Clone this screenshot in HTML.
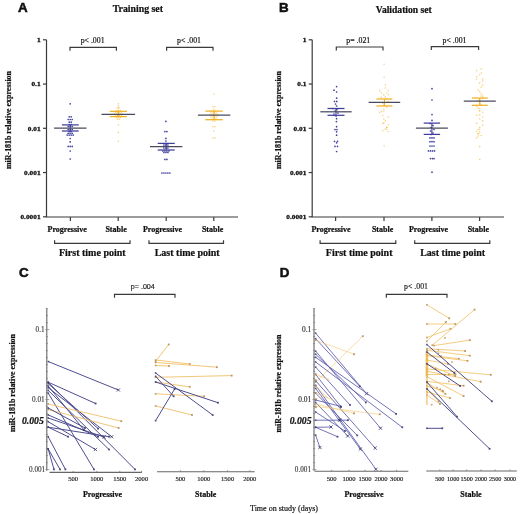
<!DOCTYPE html>
<html><head><meta charset="utf-8"><style>
html,body{margin:0;padding:0;background:#fff;width:520px;height:514px;overflow:hidden;}
svg{display:block;filter:blur(0.3px);}

</style></head><body>
<svg width="520" height="514" viewBox="0 0 520 514"><text x="18" y="12.2" font-family="'Liberation Sans', sans-serif" font-size="13.4" font-weight="bold" font-style="normal" text-anchor="start" fill="#111" stroke="#111" stroke-width="0.55">A</text>
<text x="137.9" y="12.2" font-family="'Liberation Serif', serif" font-size="9.8" font-weight="bold" font-style="normal" text-anchor="middle" fill="#111" stroke="#111" stroke-width="0.22">Training set</text>
<text x="10.5" y="120" font-family="'Liberation Serif', serif" font-size="7.9" font-weight="bold" font-style="normal" text-anchor="middle" fill="#111" transform="rotate(-90 10.5 120)" stroke="#111" stroke-width="0.22">miR-181b relative expression</text>
<line x1="46.5" y1="39.8" x2="46.5" y2="217" stroke="#3a3a3a" stroke-width="1.2"/>
<line x1="45.9" y1="217" x2="238" y2="217" stroke="#3a3a3a" stroke-width="1.2"/>
<line x1="43.0" y1="39.8" x2="46.5" y2="39.8" stroke="#3a3a3a" stroke-width="1.2"/>
<text transform="translate(40.6 42.199999999999996) scale(1.08 1)" x="0" y="0" font-family="'Liberation Serif', serif" font-size="6.8" font-weight="bold" font-style="normal" text-anchor="end" fill="#111" stroke="#111" stroke-width="0.3">1</text>
<line x1="43.0" y1="84.05" x2="46.5" y2="84.05" stroke="#3a3a3a" stroke-width="1.2"/>
<text transform="translate(40.6 86.45) scale(1.08 1)" x="0" y="0" font-family="'Liberation Serif', serif" font-size="6.8" font-weight="bold" font-style="normal" text-anchor="end" fill="#111" stroke="#111" stroke-width="0.3">0.1</text>
<line x1="43.0" y1="128.3" x2="46.5" y2="128.3" stroke="#3a3a3a" stroke-width="1.2"/>
<text transform="translate(40.6 130.70000000000002) scale(1.08 1)" x="0" y="0" font-family="'Liberation Serif', serif" font-size="6.8" font-weight="bold" font-style="normal" text-anchor="end" fill="#111" stroke="#111" stroke-width="0.3">0.01</text>
<line x1="43.0" y1="172.55" x2="46.5" y2="172.55" stroke="#3a3a3a" stroke-width="1.2"/>
<text transform="translate(40.6 174.95000000000002) scale(1.08 1)" x="0" y="0" font-family="'Liberation Serif', serif" font-size="6.8" font-weight="bold" font-style="normal" text-anchor="end" fill="#111" stroke="#111" stroke-width="0.3">0.001</text>
<line x1="43.0" y1="216.8" x2="46.5" y2="216.8" stroke="#3a3a3a" stroke-width="1.2"/>
<text transform="translate(40.6 219.20000000000002) scale(1.08 1)" x="0" y="0" font-family="'Liberation Serif', serif" font-size="6.8" font-weight="bold" font-style="normal" text-anchor="end" fill="#111" stroke="#111" stroke-width="0.3">0.0001</text>
<line x1="70.4" y1="217" x2="70.4" y2="221" stroke="#3a3a3a" stroke-width="1.2"/>
<line x1="118.2" y1="217" x2="118.2" y2="221" stroke="#3a3a3a" stroke-width="1.2"/>
<line x1="166.2" y1="217" x2="166.2" y2="221" stroke="#3a3a3a" stroke-width="1.2"/>
<line x1="213.8" y1="217" x2="213.8" y2="221" stroke="#3a3a3a" stroke-width="1.2"/>
<text x="92.6" y="42.8" font-family="'Liberation Serif', serif" font-size="7.8" font-weight="normal" font-style="normal" text-anchor="middle" fill="#111" stroke="#111" stroke-width="0.18">p&lt; .001</text>
<polyline points="70,50.8 70,47.3 116.4,47.3 116.4,50.8" fill="none" stroke="#3a3a3a" stroke-width="1.2"/>
<text x="189" y="42.8" font-family="'Liberation Serif', serif" font-size="7.8" font-weight="normal" font-style="normal" text-anchor="middle" fill="#111" stroke="#111" stroke-width="0.18">p&lt; .001</text>
<polyline points="166.6,50.8 166.6,47.3 213,47.3 213,50.8" fill="none" stroke="#3a3a3a" stroke-width="1.2"/>
<text x="67.2" y="232.0" font-family="'Liberation Serif', serif" font-size="8.0" font-weight="bold" font-style="normal" text-anchor="middle" fill="#111" stroke="#111" stroke-width="0.22">Progressive</text>
<text x="116.1" y="232.0" font-family="'Liberation Serif', serif" font-size="8.0" font-weight="bold" font-style="normal" text-anchor="middle" fill="#111" stroke="#111" stroke-width="0.22">Stable</text>
<text x="162.5" y="232.0" font-family="'Liberation Serif', serif" font-size="8.0" font-weight="bold" font-style="normal" text-anchor="middle" fill="#111" stroke="#111" stroke-width="0.22">Progressive</text>
<text x="212.6" y="232.0" font-family="'Liberation Serif', serif" font-size="8.0" font-weight="bold" font-style="normal" text-anchor="middle" fill="#111" stroke="#111" stroke-width="0.22">Stable</text>
<polyline points="54.6,240.3 54.6,243.3 130,243.3 130,240.3" fill="none" stroke="#3a3a3a" stroke-width="1.2"/>
<polyline points="149,240.3 149,243.3 223.5,243.3 223.5,240.3" fill="none" stroke="#3a3a3a" stroke-width="1.2"/>
<text x="92.3" y="255.9" font-family="'Liberation Serif', serif" font-size="10" font-weight="bold" font-style="normal" text-anchor="middle" fill="#111" stroke="#111" stroke-width="0.22">First time point</text>
<text x="187.2" y="255.9" font-family="'Liberation Serif', serif" font-size="10" font-weight="bold" font-style="normal" text-anchor="middle" fill="#111" stroke="#111" stroke-width="0.22">Last time point</text>
<circle cx="70.2" cy="103.8" r="0.85" fill="#4040a0" fill-opacity="1.0"/>
<circle cx="69.2" cy="116.8" r="0.85" fill="#4040a0" fill-opacity="1.0"/>
<circle cx="71.2" cy="116.8" r="0.85" fill="#4040a0" fill-opacity="1.0"/>
<circle cx="68.2" cy="119.5" r="0.85" fill="#4040a0" fill-opacity="1.0"/>
<circle cx="70.2" cy="119.5" r="0.85" fill="#4040a0" fill-opacity="1.0"/>
<circle cx="72.2" cy="119.5" r="0.85" fill="#4040a0" fill-opacity="1.0"/>
<circle cx="69.2" cy="122.2" r="0.85" fill="#4040a0" fill-opacity="1.0"/>
<circle cx="71.2" cy="122.2" r="0.85" fill="#4040a0" fill-opacity="1.0"/>
<circle cx="69.2" cy="124.5" r="0.85" fill="#4040a0" fill-opacity="1.0"/>
<circle cx="71.2" cy="124.5" r="0.85" fill="#4040a0" fill-opacity="1.0"/>
<circle cx="68.2" cy="126.5" r="0.85" fill="#4040a0" fill-opacity="1.0"/>
<circle cx="70.2" cy="126.5" r="0.85" fill="#4040a0" fill-opacity="1.0"/>
<circle cx="72.2" cy="126.5" r="0.85" fill="#4040a0" fill-opacity="1.0"/>
<circle cx="68.2" cy="129.5" r="0.85" fill="#4040a0" fill-opacity="1.0"/>
<circle cx="70.2" cy="129.5" r="0.85" fill="#4040a0" fill-opacity="1.0"/>
<circle cx="72.2" cy="129.5" r="0.85" fill="#4040a0" fill-opacity="1.0"/>
<circle cx="69.2" cy="131.6" r="0.85" fill="#4040a0" fill-opacity="1.0"/>
<circle cx="71.2" cy="131.6" r="0.85" fill="#4040a0" fill-opacity="1.0"/>
<circle cx="68.2" cy="133.3" r="0.85" fill="#4040a0" fill-opacity="1.0"/>
<circle cx="70.2" cy="133.3" r="0.85" fill="#4040a0" fill-opacity="1.0"/>
<circle cx="72.2" cy="133.3" r="0.85" fill="#4040a0" fill-opacity="1.0"/>
<circle cx="67.2" cy="135.1" r="0.85" fill="#4040a0" fill-opacity="1.0"/>
<circle cx="69.2" cy="135.1" r="0.85" fill="#4040a0" fill-opacity="1.0"/>
<circle cx="71.2" cy="135.1" r="0.85" fill="#4040a0" fill-opacity="1.0"/>
<circle cx="73.2" cy="135.1" r="0.85" fill="#4040a0" fill-opacity="1.0"/>
<circle cx="70.2" cy="138.5" r="0.85" fill="#4040a0" fill-opacity="1.0"/>
<circle cx="70.2" cy="141.9" r="0.85" fill="#4040a0" fill-opacity="1.0"/>
<circle cx="68.2" cy="146.4" r="0.85" fill="#4040a0" fill-opacity="1.0"/>
<circle cx="70.2" cy="146.4" r="0.85" fill="#4040a0" fill-opacity="1.0"/>
<circle cx="72.2" cy="146.4" r="0.85" fill="#4040a0" fill-opacity="1.0"/>
<circle cx="70.2" cy="151.0" r="0.85" fill="#4040a0" fill-opacity="1.0"/>
<circle cx="70.2" cy="159.0" r="0.85" fill="#4040a0" fill-opacity="1.0"/>
<line x1="61.9" y1="124.9" x2="78.7" y2="124.9" stroke="#3e3e9c" stroke-width="1.25"/>
<line x1="61.9" y1="131.0" x2="78.7" y2="131.0" stroke="#3e3e9c" stroke-width="1.25"/>
<line x1="70.3" y1="124.9" x2="70.3" y2="131.0" stroke="#3e3e9c" stroke-width="1.1"/>
<line x1="54.099999999999994" y1="128.0" x2="86.5" y2="128.0" stroke="#4a4a5e" stroke-width="1.25"/>
<circle cx="118.4" cy="103.8" r="0.75" fill="#f2b630" fill-opacity="0.65"/>
<circle cx="118.4" cy="105.7" r="0.75" fill="#f2b630" fill-opacity="0.65"/>
<circle cx="117.4" cy="107.5" r="0.75" fill="#f2b630" fill-opacity="0.65"/>
<circle cx="119.4" cy="107.5" r="0.75" fill="#f2b630" fill-opacity="0.65"/>
<circle cx="118.4" cy="108.7" r="0.75" fill="#f2b630" fill-opacity="0.65"/>
<circle cx="116.4" cy="110.5" r="0.75" fill="#f2b630" fill-opacity="0.65"/>
<circle cx="118.4" cy="110.5" r="0.75" fill="#f2b630" fill-opacity="0.65"/>
<circle cx="120.4" cy="110.5" r="0.75" fill="#f2b630" fill-opacity="0.65"/>
<circle cx="115.4" cy="112.3" r="0.75" fill="#f2b630" fill-opacity="0.65"/>
<circle cx="117.4" cy="112.3" r="0.75" fill="#f2b630" fill-opacity="0.65"/>
<circle cx="119.4" cy="112.3" r="0.75" fill="#f2b630" fill-opacity="0.65"/>
<circle cx="121.4" cy="112.3" r="0.75" fill="#f2b630" fill-opacity="0.65"/>
<circle cx="114.4" cy="114.0" r="0.75" fill="#f2b630" fill-opacity="0.65"/>
<circle cx="116.4" cy="114.0" r="0.75" fill="#f2b630" fill-opacity="0.65"/>
<circle cx="118.4" cy="114.0" r="0.75" fill="#f2b630" fill-opacity="0.65"/>
<circle cx="120.4" cy="114.0" r="0.75" fill="#f2b630" fill-opacity="0.65"/>
<circle cx="122.4" cy="114.0" r="0.75" fill="#f2b630" fill-opacity="0.65"/>
<circle cx="115.4" cy="115.8" r="0.75" fill="#f2b630" fill-opacity="0.65"/>
<circle cx="117.4" cy="115.8" r="0.75" fill="#f2b630" fill-opacity="0.65"/>
<circle cx="119.4" cy="115.8" r="0.75" fill="#f2b630" fill-opacity="0.65"/>
<circle cx="121.4" cy="115.8" r="0.75" fill="#f2b630" fill-opacity="0.65"/>
<circle cx="116.4" cy="117.4" r="0.75" fill="#f2b630" fill-opacity="0.65"/>
<circle cx="118.4" cy="117.4" r="0.75" fill="#f2b630" fill-opacity="0.65"/>
<circle cx="120.4" cy="117.4" r="0.75" fill="#f2b630" fill-opacity="0.65"/>
<circle cx="117.4" cy="119.2" r="0.75" fill="#f2b630" fill-opacity="0.65"/>
<circle cx="119.4" cy="119.2" r="0.75" fill="#f2b630" fill-opacity="0.65"/>
<circle cx="118.4" cy="125.0" r="0.75" fill="#f2b630" fill-opacity="0.65"/>
<circle cx="118.4" cy="132.6" r="0.75" fill="#f2b630" fill-opacity="0.65"/>
<circle cx="118.4" cy="141.3" r="0.75" fill="#f2b630" fill-opacity="0.65"/>
<line x1="109.7" y1="111.3" x2="126.89999999999999" y2="111.3" stroke="#f0b020" stroke-width="1.25"/>
<line x1="109.7" y1="116.6" x2="126.89999999999999" y2="116.6" stroke="#f0b020" stroke-width="1.25"/>
<line x1="118.3" y1="111.3" x2="118.3" y2="116.6" stroke="#f0b020" stroke-width="1.1"/>
<line x1="101.5" y1="114.3" x2="135.1" y2="114.3" stroke="#4a4a5e" stroke-width="1.25"/>
<circle cx="165.9" cy="121.4" r="0.85" fill="#4040a0" fill-opacity="1.0"/>
<circle cx="164.9" cy="131.6" r="0.85" fill="#4040a0" fill-opacity="1.0"/>
<circle cx="166.9" cy="131.6" r="0.85" fill="#4040a0" fill-opacity="1.0"/>
<circle cx="165.9" cy="138.4" r="0.85" fill="#4040a0" fill-opacity="1.0"/>
<circle cx="165.9" cy="141.0" r="0.85" fill="#4040a0" fill-opacity="1.0"/>
<circle cx="164.9" cy="143.5" r="0.85" fill="#4040a0" fill-opacity="1.0"/>
<circle cx="166.9" cy="143.5" r="0.85" fill="#4040a0" fill-opacity="1.0"/>
<circle cx="163.9" cy="145.0" r="0.85" fill="#4040a0" fill-opacity="1.0"/>
<circle cx="165.9" cy="145.0" r="0.85" fill="#4040a0" fill-opacity="1.0"/>
<circle cx="167.9" cy="145.0" r="0.85" fill="#4040a0" fill-opacity="1.0"/>
<circle cx="163.9" cy="148.0" r="0.85" fill="#4040a0" fill-opacity="1.0"/>
<circle cx="165.9" cy="148.0" r="0.85" fill="#4040a0" fill-opacity="1.0"/>
<circle cx="167.9" cy="148.0" r="0.85" fill="#4040a0" fill-opacity="1.0"/>
<circle cx="162.9" cy="151.0" r="0.85" fill="#4040a0" fill-opacity="1.0"/>
<circle cx="164.9" cy="151.0" r="0.85" fill="#4040a0" fill-opacity="1.0"/>
<circle cx="166.9" cy="151.0" r="0.85" fill="#4040a0" fill-opacity="1.0"/>
<circle cx="168.9" cy="151.0" r="0.85" fill="#4040a0" fill-opacity="1.0"/>
<circle cx="163.9" cy="152.5" r="0.85" fill="#4040a0" fill-opacity="1.0"/>
<circle cx="165.9" cy="152.5" r="0.85" fill="#4040a0" fill-opacity="1.0"/>
<circle cx="167.9" cy="152.5" r="0.85" fill="#4040a0" fill-opacity="1.0"/>
<circle cx="164.9" cy="159.4" r="0.85" fill="#4040a0" fill-opacity="1.0"/>
<circle cx="166.9" cy="159.4" r="0.85" fill="#4040a0" fill-opacity="1.0"/>
<circle cx="161.9" cy="173.0" r="0.85" fill="#4040a0" fill-opacity="1.0"/>
<circle cx="163.9" cy="173.0" r="0.85" fill="#4040a0" fill-opacity="1.0"/>
<circle cx="165.9" cy="173.0" r="0.85" fill="#4040a0" fill-opacity="1.0"/>
<circle cx="167.9" cy="173.0" r="0.85" fill="#4040a0" fill-opacity="1.0"/>
<circle cx="169.9" cy="173.0" r="0.85" fill="#4040a0" fill-opacity="1.0"/>
<line x1="157.7" y1="143.4" x2="174.7" y2="143.4" stroke="#3e3e9c" stroke-width="1.25"/>
<line x1="157.7" y1="150.0" x2="174.7" y2="150.0" stroke="#3e3e9c" stroke-width="1.25"/>
<line x1="166.2" y1="143.4" x2="166.2" y2="150.0" stroke="#3e3e9c" stroke-width="1.1"/>
<line x1="150.0" y1="146.7" x2="182.39999999999998" y2="146.7" stroke="#4a4a5e" stroke-width="1.25"/>
<circle cx="213.9" cy="94.0" r="0.75" fill="#f2b630" fill-opacity="0.65"/>
<circle cx="212.9" cy="106.8" r="0.75" fill="#f2b630" fill-opacity="0.65"/>
<circle cx="214.9" cy="106.8" r="0.75" fill="#f2b630" fill-opacity="0.65"/>
<circle cx="213.9" cy="109.0" r="0.75" fill="#f2b630" fill-opacity="0.65"/>
<circle cx="211.9" cy="111.0" r="0.75" fill="#f2b630" fill-opacity="0.65"/>
<circle cx="213.9" cy="111.0" r="0.75" fill="#f2b630" fill-opacity="0.65"/>
<circle cx="215.9" cy="111.0" r="0.75" fill="#f2b630" fill-opacity="0.65"/>
<circle cx="210.9" cy="113.0" r="0.75" fill="#f2b630" fill-opacity="0.65"/>
<circle cx="212.9" cy="113.0" r="0.75" fill="#f2b630" fill-opacity="0.65"/>
<circle cx="214.9" cy="113.0" r="0.75" fill="#f2b630" fill-opacity="0.65"/>
<circle cx="216.9" cy="113.0" r="0.75" fill="#f2b630" fill-opacity="0.65"/>
<circle cx="209.9" cy="115.0" r="0.75" fill="#f2b630" fill-opacity="0.65"/>
<circle cx="211.9" cy="115.0" r="0.75" fill="#f2b630" fill-opacity="0.65"/>
<circle cx="213.9" cy="115.0" r="0.75" fill="#f2b630" fill-opacity="0.65"/>
<circle cx="215.9" cy="115.0" r="0.75" fill="#f2b630" fill-opacity="0.65"/>
<circle cx="217.9" cy="115.0" r="0.75" fill="#f2b630" fill-opacity="0.65"/>
<circle cx="210.9" cy="117.0" r="0.75" fill="#f2b630" fill-opacity="0.65"/>
<circle cx="212.9" cy="117.0" r="0.75" fill="#f2b630" fill-opacity="0.65"/>
<circle cx="214.9" cy="117.0" r="0.75" fill="#f2b630" fill-opacity="0.65"/>
<circle cx="216.9" cy="117.0" r="0.75" fill="#f2b630" fill-opacity="0.65"/>
<circle cx="211.9" cy="119.0" r="0.75" fill="#f2b630" fill-opacity="0.65"/>
<circle cx="213.9" cy="119.0" r="0.75" fill="#f2b630" fill-opacity="0.65"/>
<circle cx="215.9" cy="119.0" r="0.75" fill="#f2b630" fill-opacity="0.65"/>
<circle cx="212.9" cy="121.0" r="0.75" fill="#f2b630" fill-opacity="0.65"/>
<circle cx="214.9" cy="121.0" r="0.75" fill="#f2b630" fill-opacity="0.65"/>
<circle cx="212.9" cy="126.7" r="0.75" fill="#f2b630" fill-opacity="0.65"/>
<circle cx="214.9" cy="126.7" r="0.75" fill="#f2b630" fill-opacity="0.65"/>
<circle cx="213.9" cy="131.0" r="0.75" fill="#f2b630" fill-opacity="0.65"/>
<circle cx="212.9" cy="138.0" r="0.75" fill="#f2b630" fill-opacity="0.65"/>
<circle cx="214.9" cy="138.0" r="0.75" fill="#f2b630" fill-opacity="0.65"/>
<line x1="205.4" y1="111.1" x2="222.79999999999998" y2="111.1" stroke="#f0b020" stroke-width="1.25"/>
<line x1="205.4" y1="119.7" x2="222.79999999999998" y2="119.7" stroke="#f0b020" stroke-width="1.25"/>
<line x1="214.1" y1="111.1" x2="214.1" y2="119.7" stroke="#f0b020" stroke-width="1.1"/>
<line x1="197.9" y1="115.2" x2="230.29999999999998" y2="115.2" stroke="#4a4a5e" stroke-width="1.25"/>
<text x="279" y="12.2" font-family="'Liberation Sans', sans-serif" font-size="13.4" font-weight="bold" font-style="normal" text-anchor="start" fill="#111" stroke="#111" stroke-width="0.55">B</text>
<text x="403.8" y="12.8" font-family="'Liberation Serif', serif" font-size="9.6" font-weight="bold" font-style="normal" text-anchor="middle" fill="#111" stroke="#111" stroke-width="0.22">Validation set</text>
<text x="281" y="120" font-family="'Liberation Serif', serif" font-size="7.9" font-weight="bold" font-style="normal" text-anchor="middle" fill="#111" transform="rotate(-90 281 120)" stroke="#111" stroke-width="0.22">miR-181b relative expression</text>
<line x1="312.2" y1="39.8" x2="312.2" y2="217" stroke="#3a3a3a" stroke-width="1.2"/>
<line x1="311.59999999999997" y1="217" x2="504" y2="217" stroke="#3a3a3a" stroke-width="1.2"/>
<line x1="308.7" y1="39.8" x2="312.2" y2="39.8" stroke="#3a3a3a" stroke-width="1.2"/>
<text transform="translate(306.4 42.199999999999996) scale(1.08 1)" x="0" y="0" font-family="'Liberation Serif', serif" font-size="6.8" font-weight="bold" font-style="normal" text-anchor="end" fill="#111" stroke="#111" stroke-width="0.3">1</text>
<line x1="308.7" y1="84.05" x2="312.2" y2="84.05" stroke="#3a3a3a" stroke-width="1.2"/>
<text transform="translate(306.4 86.45) scale(1.08 1)" x="0" y="0" font-family="'Liberation Serif', serif" font-size="6.8" font-weight="bold" font-style="normal" text-anchor="end" fill="#111" stroke="#111" stroke-width="0.3">0.1</text>
<line x1="308.7" y1="128.3" x2="312.2" y2="128.3" stroke="#3a3a3a" stroke-width="1.2"/>
<text transform="translate(306.4 130.70000000000002) scale(1.08 1)" x="0" y="0" font-family="'Liberation Serif', serif" font-size="6.8" font-weight="bold" font-style="normal" text-anchor="end" fill="#111" stroke="#111" stroke-width="0.3">0.01</text>
<line x1="308.7" y1="172.55" x2="312.2" y2="172.55" stroke="#3a3a3a" stroke-width="1.2"/>
<text transform="translate(306.4 174.95000000000002) scale(1.08 1)" x="0" y="0" font-family="'Liberation Serif', serif" font-size="6.8" font-weight="bold" font-style="normal" text-anchor="end" fill="#111" stroke="#111" stroke-width="0.3">0.001</text>
<line x1="308.7" y1="216.8" x2="312.2" y2="216.8" stroke="#3a3a3a" stroke-width="1.2"/>
<text transform="translate(306.4 219.20000000000002) scale(1.08 1)" x="0" y="0" font-family="'Liberation Serif', serif" font-size="6.8" font-weight="bold" font-style="normal" text-anchor="end" fill="#111" stroke="#111" stroke-width="0.3">0.0001</text>
<line x1="335.6" y1="217" x2="335.6" y2="221" stroke="#3a3a3a" stroke-width="1.2"/>
<line x1="384.0" y1="217" x2="384.0" y2="221" stroke="#3a3a3a" stroke-width="1.2"/>
<line x1="431.9" y1="217" x2="431.9" y2="221" stroke="#3a3a3a" stroke-width="1.2"/>
<line x1="479.6" y1="217" x2="479.6" y2="221" stroke="#3a3a3a" stroke-width="1.2"/>
<text x="358.3" y="42.8" font-family="'Liberation Serif', serif" font-size="7.8" font-weight="normal" font-style="normal" text-anchor="middle" fill="#111" stroke="#111" stroke-width="0.18">p= .021</text>
<polyline points="336.3,50.5 336.3,47 383,47 383,50.5" fill="none" stroke="#3a3a3a" stroke-width="1.2"/>
<text x="454.5" y="42.8" font-family="'Liberation Serif', serif" font-size="7.8" font-weight="normal" font-style="normal" text-anchor="middle" fill="#111" stroke="#111" stroke-width="0.18">p&lt; .001</text>
<polyline points="431.3,50.1 431.3,46.6 478.6,46.6 478.6,50.1" fill="none" stroke="#3a3a3a" stroke-width="1.2"/>
<text x="331" y="232.0" font-family="'Liberation Serif', serif" font-size="8.0" font-weight="bold" font-style="normal" text-anchor="middle" fill="#111" stroke="#111" stroke-width="0.22">Progressive</text>
<text x="382.6" y="232.0" font-family="'Liberation Serif', serif" font-size="8.0" font-weight="bold" font-style="normal" text-anchor="middle" fill="#111" stroke="#111" stroke-width="0.22">Stable</text>
<text x="428.5" y="232.0" font-family="'Liberation Serif', serif" font-size="8.0" font-weight="bold" font-style="normal" text-anchor="middle" fill="#111" stroke="#111" stroke-width="0.22">Progressive</text>
<text x="478.3" y="232.0" font-family="'Liberation Serif', serif" font-size="8.0" font-weight="bold" font-style="normal" text-anchor="middle" fill="#111" stroke="#111" stroke-width="0.22">Stable</text>
<polyline points="320.1,240.3 320.1,243.3 395.8,243.3 395.8,240.3" fill="none" stroke="#3a3a3a" stroke-width="1.2"/>
<polyline points="414.7,240.3 414.7,243.3 489.8,243.3 489.8,240.3" fill="none" stroke="#3a3a3a" stroke-width="1.2"/>
<text x="359.2" y="255.9" font-family="'Liberation Serif', serif" font-size="10" font-weight="bold" font-style="normal" text-anchor="middle" fill="#111" stroke="#111" stroke-width="0.22">First time point</text>
<text x="452.7" y="255.9" font-family="'Liberation Serif', serif" font-size="10" font-weight="bold" font-style="normal" text-anchor="middle" fill="#111" stroke="#111" stroke-width="0.22">Last time point</text>
<circle cx="336.6" cy="86.6" r="0.85" fill="#4040a0" fill-opacity="1.0"/>
<circle cx="334.0" cy="90.2" r="0.85" fill="#4040a0" fill-opacity="1.0"/>
<circle cx="336.6" cy="92.0" r="0.85" fill="#4040a0" fill-opacity="1.0"/>
<circle cx="336.6" cy="98.2" r="0.85" fill="#4040a0" fill-opacity="1.0"/>
<circle cx="334.5" cy="101.4" r="0.85" fill="#4040a0" fill-opacity="1.0"/>
<circle cx="336.8" cy="101.4" r="0.85" fill="#4040a0" fill-opacity="1.0"/>
<circle cx="335.5" cy="104.0" r="0.85" fill="#4040a0" fill-opacity="1.0"/>
<circle cx="336.6" cy="106.0" r="0.85" fill="#4040a0" fill-opacity="1.0"/>
<circle cx="333.0" cy="108.5" r="0.85" fill="#4040a0" fill-opacity="1.0"/>
<circle cx="337.0" cy="109.5" r="0.85" fill="#4040a0" fill-opacity="1.0"/>
<circle cx="335.0" cy="111.0" r="0.85" fill="#4040a0" fill-opacity="1.0"/>
<circle cx="338.0" cy="113.0" r="0.85" fill="#4040a0" fill-opacity="1.0"/>
<circle cx="334.0" cy="114.0" r="0.85" fill="#4040a0" fill-opacity="1.0"/>
<circle cx="336.0" cy="116.0" r="0.85" fill="#4040a0" fill-opacity="1.0"/>
<circle cx="336.6" cy="118.7" r="0.85" fill="#4040a0" fill-opacity="1.0"/>
<circle cx="336.4" cy="121.6" r="0.85" fill="#4040a0" fill-opacity="1.0"/>
<circle cx="336.6" cy="126.7" r="0.85" fill="#4040a0" fill-opacity="1.0"/>
<circle cx="335.0" cy="129.6" r="0.85" fill="#4040a0" fill-opacity="1.0"/>
<circle cx="337.0" cy="129.6" r="0.85" fill="#4040a0" fill-opacity="1.0"/>
<circle cx="336.6" cy="131.8" r="0.85" fill="#4040a0" fill-opacity="1.0"/>
<circle cx="336.6" cy="135.2" r="0.85" fill="#4040a0" fill-opacity="1.0"/>
<circle cx="334.5" cy="141.3" r="0.85" fill="#4040a0" fill-opacity="1.0"/>
<circle cx="337.5" cy="141.3" r="0.85" fill="#4040a0" fill-opacity="1.0"/>
<circle cx="336.6" cy="142.8" r="0.85" fill="#4040a0" fill-opacity="1.0"/>
<circle cx="335.0" cy="146.4" r="0.85" fill="#4040a0" fill-opacity="1.0"/>
<circle cx="337.5" cy="146.4" r="0.85" fill="#4040a0" fill-opacity="1.0"/>
<circle cx="336.6" cy="151.5" r="0.85" fill="#4040a0" fill-opacity="1.0"/>
<line x1="327.5" y1="108.5" x2="344.5" y2="108.5" stroke="#3e3e9c" stroke-width="1.25"/>
<line x1="327.5" y1="115.3" x2="344.5" y2="115.3" stroke="#3e3e9c" stroke-width="1.25"/>
<line x1="336.0" y1="108.5" x2="336.0" y2="115.3" stroke="#3e3e9c" stroke-width="1.1"/>
<line x1="320.3" y1="111.8" x2="351.7" y2="111.8" stroke="#4a4a5e" stroke-width="1.25"/>
<circle cx="385.3" cy="85.0" r="0.8" fill="#f2b630" fill-opacity="0.6"/>
<circle cx="385.3" cy="88.0" r="0.8" fill="#f2b630" fill-opacity="0.6"/>
<circle cx="379.8" cy="90.6" r="0.8" fill="#f2b630" fill-opacity="0.6"/>
<circle cx="388.3" cy="90.5" r="0.8" fill="#f2b630" fill-opacity="0.6"/>
<circle cx="381.3" cy="92.7" r="0.8" fill="#f2b630" fill-opacity="0.6"/>
<circle cx="386.8" cy="93.0" r="0.8" fill="#f2b630" fill-opacity="0.6"/>
<circle cx="383.8" cy="94.9" r="0.8" fill="#f2b630" fill-opacity="0.6"/>
<circle cx="388.3" cy="94.7" r="0.8" fill="#f2b630" fill-opacity="0.6"/>
<circle cx="381.3" cy="97.4" r="0.8" fill="#f2b630" fill-opacity="0.6"/>
<circle cx="385.3" cy="96.9" r="0.8" fill="#f2b630" fill-opacity="0.6"/>
<circle cx="386.8" cy="99.3" r="0.8" fill="#f2b630" fill-opacity="0.6"/>
<circle cx="388.3" cy="101.5" r="0.8" fill="#f2b630" fill-opacity="0.6"/>
<circle cx="382.8" cy="103.3" r="0.8" fill="#f2b630" fill-opacity="0.6"/>
<circle cx="383.8" cy="105.1" r="0.8" fill="#f2b630" fill-opacity="0.6"/>
<circle cx="386.8" cy="107.3" r="0.8" fill="#f2b630" fill-opacity="0.6"/>
<circle cx="383.8" cy="109.2" r="0.8" fill="#f2b630" fill-opacity="0.6"/>
<circle cx="383.8" cy="111.5" r="0.8" fill="#f2b630" fill-opacity="0.6"/>
<circle cx="381.3" cy="111.4" r="0.8" fill="#f2b630" fill-opacity="0.6"/>
<circle cx="379.8" cy="112.6" r="0.8" fill="#f2b630" fill-opacity="0.6"/>
<circle cx="382.8" cy="115.5" r="0.8" fill="#f2b630" fill-opacity="0.6"/>
<circle cx="388.3" cy="117.1" r="0.8" fill="#f2b630" fill-opacity="0.6"/>
<circle cx="383.8" cy="119.0" r="0.8" fill="#f2b630" fill-opacity="0.6"/>
<circle cx="385.3" cy="120.9" r="0.8" fill="#f2b630" fill-opacity="0.6"/>
<circle cx="383.8" cy="123.1" r="0.8" fill="#f2b630" fill-opacity="0.6"/>
<circle cx="382.8" cy="123.2" r="0.8" fill="#f2b630" fill-opacity="0.6"/>
<circle cx="388.3" cy="124.8" r="0.8" fill="#f2b630" fill-opacity="0.6"/>
<circle cx="386.8" cy="127.2" r="0.8" fill="#f2b630" fill-opacity="0.6"/>
<circle cx="386.8" cy="127.4" r="0.8" fill="#f2b630" fill-opacity="0.6"/>
<circle cx="385.3" cy="129.1" r="0.8" fill="#f2b630" fill-opacity="0.6"/>
<circle cx="386.8" cy="129.2" r="0.8" fill="#f2b630" fill-opacity="0.6"/>
<circle cx="388.3" cy="131.5" r="0.8" fill="#f2b630" fill-opacity="0.6"/>
<circle cx="382.8" cy="130.8" r="0.8" fill="#f2b630" fill-opacity="0.6"/>
<circle cx="384.1" cy="64.3" r="0.8" fill="#f2b630" fill-opacity="0.6"/>
<circle cx="384.1" cy="77.3" r="0.8" fill="#f2b630" fill-opacity="0.6"/>
<circle cx="384.1" cy="145.7" r="0.8" fill="#f2b630" fill-opacity="0.6"/>
<line x1="376.4" y1="99.0" x2="392.4" y2="99.0" stroke="#f0b020" stroke-width="1.25"/>
<line x1="376.4" y1="106.0" x2="392.4" y2="106.0" stroke="#f0b020" stroke-width="1.25"/>
<line x1="384.4" y1="99.0" x2="384.4" y2="106.0" stroke="#f0b020" stroke-width="1.1"/>
<line x1="368.59999999999997" y1="102.3" x2="400.2" y2="102.3" stroke="#4a4a5e" stroke-width="1.25"/>
<circle cx="432.0" cy="88.7" r="0.85" fill="#4040a0" fill-opacity="1.0"/>
<circle cx="432.0" cy="100.0" r="0.85" fill="#4040a0" fill-opacity="1.0"/>
<circle cx="432.0" cy="114.6" r="0.85" fill="#4040a0" fill-opacity="1.0"/>
<circle cx="432.0" cy="120.4" r="0.85" fill="#4040a0" fill-opacity="1.0"/>
<circle cx="430.0" cy="123.5" r="0.85" fill="#4040a0" fill-opacity="1.0"/>
<circle cx="433.0" cy="125.5" r="0.85" fill="#4040a0" fill-opacity="1.0"/>
<circle cx="431.0" cy="127.5" r="0.85" fill="#4040a0" fill-opacity="1.0"/>
<circle cx="434.0" cy="129.5" r="0.85" fill="#4040a0" fill-opacity="1.0"/>
<circle cx="430.5" cy="131.0" r="0.85" fill="#4040a0" fill-opacity="1.0"/>
<circle cx="433.0" cy="133.0" r="0.85" fill="#4040a0" fill-opacity="1.0"/>
<circle cx="431.0" cy="134.5" r="0.85" fill="#4040a0" fill-opacity="1.0"/>
<circle cx="430.0" cy="137.9" r="0.85" fill="#4040a0" fill-opacity="1.0"/>
<circle cx="432.0" cy="137.9" r="0.85" fill="#4040a0" fill-opacity="1.0"/>
<circle cx="434.0" cy="137.9" r="0.85" fill="#4040a0" fill-opacity="1.0"/>
<circle cx="430.0" cy="141.7" r="0.85" fill="#4040a0" fill-opacity="1.0"/>
<circle cx="432.0" cy="141.7" r="0.85" fill="#4040a0" fill-opacity="1.0"/>
<circle cx="434.0" cy="141.7" r="0.85" fill="#4040a0" fill-opacity="1.0"/>
<circle cx="430.0" cy="146.0" r="0.85" fill="#4040a0" fill-opacity="1.0"/>
<circle cx="432.0" cy="146.0" r="0.85" fill="#4040a0" fill-opacity="1.0"/>
<circle cx="434.0" cy="146.0" r="0.85" fill="#4040a0" fill-opacity="1.0"/>
<circle cx="428.5" cy="150.9" r="0.85" fill="#4040a0" fill-opacity="1.0"/>
<circle cx="430.5" cy="150.9" r="0.85" fill="#4040a0" fill-opacity="1.0"/>
<circle cx="432.5" cy="150.9" r="0.85" fill="#4040a0" fill-opacity="1.0"/>
<circle cx="434.5" cy="150.9" r="0.85" fill="#4040a0" fill-opacity="1.0"/>
<circle cx="430.5" cy="158.6" r="0.85" fill="#4040a0" fill-opacity="1.0"/>
<circle cx="432.5" cy="158.6" r="0.85" fill="#4040a0" fill-opacity="1.0"/>
<circle cx="434.0" cy="158.6" r="0.85" fill="#4040a0" fill-opacity="1.0"/>
<circle cx="432.0" cy="172.2" r="0.85" fill="#4040a0" fill-opacity="1.0"/>
<line x1="423.7" y1="123.1" x2="440.09999999999997" y2="123.1" stroke="#3e3e9c" stroke-width="1.25"/>
<line x1="423.7" y1="134.4" x2="440.09999999999997" y2="134.4" stroke="#3e3e9c" stroke-width="1.25"/>
<line x1="431.9" y1="123.1" x2="431.9" y2="134.4" stroke="#3e3e9c" stroke-width="1.1"/>
<line x1="415.9" y1="128.2" x2="447.9" y2="128.2" stroke="#4a4a5e" stroke-width="1.25"/>
<circle cx="481.2" cy="68.9" r="0.8" fill="#f2b630" fill-opacity="0.6"/>
<circle cx="476.7" cy="70.6" r="0.8" fill="#f2b630" fill-opacity="0.6"/>
<circle cx="481.2" cy="73.1" r="0.8" fill="#f2b630" fill-opacity="0.6"/>
<circle cx="479.7" cy="74.8" r="0.8" fill="#f2b630" fill-opacity="0.6"/>
<circle cx="476.7" cy="76.6" r="0.8" fill="#f2b630" fill-opacity="0.6"/>
<circle cx="476.7" cy="79.0" r="0.8" fill="#f2b630" fill-opacity="0.6"/>
<circle cx="482.7" cy="79.0" r="0.8" fill="#f2b630" fill-opacity="0.6"/>
<circle cx="482.7" cy="81.0" r="0.8" fill="#f2b630" fill-opacity="0.6"/>
<circle cx="479.7" cy="82.9" r="0.8" fill="#f2b630" fill-opacity="0.6"/>
<circle cx="482.7" cy="85.4" r="0.8" fill="#f2b630" fill-opacity="0.6"/>
<circle cx="481.2" cy="87.3" r="0.8" fill="#f2b630" fill-opacity="0.6"/>
<circle cx="478.2" cy="89.8" r="0.8" fill="#f2b630" fill-opacity="0.6"/>
<circle cx="479.7" cy="91.6" r="0.8" fill="#f2b630" fill-opacity="0.6"/>
<circle cx="481.2" cy="93.7" r="0.8" fill="#f2b630" fill-opacity="0.6"/>
<circle cx="481.2" cy="96.0" r="0.8" fill="#f2b630" fill-opacity="0.6"/>
<circle cx="482.7" cy="96.0" r="0.8" fill="#f2b630" fill-opacity="0.6"/>
<circle cx="482.7" cy="98.4" r="0.8" fill="#f2b630" fill-opacity="0.6"/>
<circle cx="479.7" cy="100.0" r="0.8" fill="#f2b630" fill-opacity="0.6"/>
<circle cx="478.2" cy="100.4" r="0.8" fill="#f2b630" fill-opacity="0.6"/>
<circle cx="479.7" cy="102.2" r="0.8" fill="#f2b630" fill-opacity="0.6"/>
<circle cx="479.7" cy="103.9" r="0.8" fill="#f2b630" fill-opacity="0.6"/>
<circle cx="481.2" cy="104.7" r="0.8" fill="#f2b630" fill-opacity="0.6"/>
<circle cx="476.7" cy="106.3" r="0.8" fill="#f2b630" fill-opacity="0.6"/>
<circle cx="478.2" cy="108.1" r="0.8" fill="#f2b630" fill-opacity="0.6"/>
<circle cx="479.7" cy="108.5" r="0.8" fill="#f2b630" fill-opacity="0.6"/>
<circle cx="479.7" cy="110.7" r="0.8" fill="#f2b630" fill-opacity="0.6"/>
<circle cx="479.7" cy="110.8" r="0.8" fill="#f2b630" fill-opacity="0.6"/>
<circle cx="482.7" cy="112.3" r="0.8" fill="#f2b630" fill-opacity="0.6"/>
<circle cx="476.7" cy="115.2" r="0.8" fill="#f2b630" fill-opacity="0.6"/>
<circle cx="479.7" cy="114.9" r="0.8" fill="#f2b630" fill-opacity="0.6"/>
<circle cx="482.7" cy="117.0" r="0.8" fill="#f2b630" fill-opacity="0.6"/>
<circle cx="479.7" cy="118.7" r="0.8" fill="#f2b630" fill-opacity="0.6"/>
<circle cx="482.7" cy="120.9" r="0.8" fill="#f2b630" fill-opacity="0.6"/>
<circle cx="476.7" cy="123.4" r="0.8" fill="#f2b630" fill-opacity="0.6"/>
<circle cx="482.7" cy="125.4" r="0.8" fill="#f2b630" fill-opacity="0.6"/>
<circle cx="479.7" cy="127.4" r="0.8" fill="#f2b630" fill-opacity="0.6"/>
<circle cx="479.7" cy="129.3" r="0.8" fill="#f2b630" fill-opacity="0.6"/>
<circle cx="478.2" cy="129.6" r="0.8" fill="#f2b630" fill-opacity="0.6"/>
<circle cx="476.7" cy="131.3" r="0.8" fill="#f2b630" fill-opacity="0.6"/>
<circle cx="479.7" cy="132.0" r="0.8" fill="#f2b630" fill-opacity="0.6"/>
<circle cx="478.2" cy="133.7" r="0.8" fill="#f2b630" fill-opacity="0.6"/>
<circle cx="478.2" cy="133.4" r="0.8" fill="#f2b630" fill-opacity="0.6"/>
<circle cx="478.2" cy="136.1" r="0.8" fill="#f2b630" fill-opacity="0.6"/>
<circle cx="481.2" cy="135.6" r="0.8" fill="#f2b630" fill-opacity="0.6"/>
<circle cx="476.7" cy="137.9" r="0.8" fill="#f2b630" fill-opacity="0.6"/>
<circle cx="479.7" cy="146.6" r="0.8" fill="#f2b630" fill-opacity="0.7"/>
<circle cx="479.7" cy="159.5" r="0.8" fill="#f2b630" fill-opacity="0.7"/>
<line x1="471.8" y1="98.0" x2="487.8" y2="98.0" stroke="#f0b020" stroke-width="1.25"/>
<line x1="471.8" y1="105.3" x2="487.8" y2="105.3" stroke="#f0b020" stroke-width="1.25"/>
<line x1="479.8" y1="98.0" x2="479.8" y2="105.3" stroke="#f0b020" stroke-width="1.1"/>
<line x1="463.8" y1="101.1" x2="495.8" y2="101.1" stroke="#4a4a5e" stroke-width="1.25"/>
<text x="19" y="277.1" font-family="'Liberation Sans', sans-serif" font-size="13.4" font-weight="bold" font-style="normal" text-anchor="start" fill="#111" stroke="#111" stroke-width="0.55">C</text>
<text x="14.6" y="383" font-family="'Liberation Serif', serif" font-size="7.9" font-weight="bold" font-style="normal" text-anchor="middle" fill="#111" transform="rotate(-90 14.6 383)" stroke="#111" stroke-width="0.22">miR-181b relative expression</text>
<line x1="46.8" y1="308.5" x2="46.8" y2="470.8" stroke="#666" stroke-width="1.1"/>
<line x1="45.8" y1="308.6" x2="48.0" y2="308.6" stroke="#888" stroke-width="0.8"/>
<line x1="45.8" y1="315.6" x2="48.0" y2="315.6" stroke="#888" stroke-width="0.8"/>
<line x1="45.8" y1="322.6" x2="48.0" y2="322.6" stroke="#888" stroke-width="0.8"/>
<line x1="45.3" y1="329.6" x2="49.3" y2="329.6" stroke="#888" stroke-width="0.8"/>
<line x1="45.8" y1="336.6" x2="48.0" y2="336.6" stroke="#888" stroke-width="0.8"/>
<line x1="45.8" y1="343.6" x2="48.0" y2="343.6" stroke="#888" stroke-width="0.8"/>
<line x1="45.8" y1="350.6" x2="48.0" y2="350.6" stroke="#888" stroke-width="0.8"/>
<line x1="45.8" y1="357.6" x2="48.0" y2="357.6" stroke="#888" stroke-width="0.8"/>
<line x1="45.8" y1="364.6" x2="48.0" y2="364.6" stroke="#888" stroke-width="0.8"/>
<line x1="45.8" y1="371.6" x2="48.0" y2="371.6" stroke="#888" stroke-width="0.8"/>
<line x1="45.8" y1="378.6" x2="48.0" y2="378.6" stroke="#888" stroke-width="0.8"/>
<line x1="45.8" y1="385.6" x2="48.0" y2="385.6" stroke="#888" stroke-width="0.8"/>
<line x1="45.8" y1="392.6" x2="48.0" y2="392.6" stroke="#888" stroke-width="0.8"/>
<line x1="45.3" y1="399.6" x2="49.3" y2="399.6" stroke="#888" stroke-width="0.8"/>
<line x1="45.8" y1="406.6" x2="48.0" y2="406.6" stroke="#888" stroke-width="0.8"/>
<line x1="45.8" y1="413.6" x2="48.0" y2="413.6" stroke="#888" stroke-width="0.8"/>
<line x1="45.8" y1="420.6" x2="48.0" y2="420.6" stroke="#888" stroke-width="0.8"/>
<line x1="45.8" y1="427.6" x2="48.0" y2="427.6" stroke="#888" stroke-width="0.8"/>
<line x1="45.8" y1="434.6" x2="48.0" y2="434.6" stroke="#888" stroke-width="0.8"/>
<line x1="45.8" y1="441.6" x2="48.0" y2="441.6" stroke="#888" stroke-width="0.8"/>
<line x1="45.8" y1="448.6" x2="48.0" y2="448.6" stroke="#888" stroke-width="0.8"/>
<line x1="45.8" y1="455.6" x2="48.0" y2="455.6" stroke="#888" stroke-width="0.8"/>
<line x1="45.8" y1="462.6" x2="48.0" y2="462.6" stroke="#888" stroke-width="0.8"/>
<line x1="45.3" y1="469.6" x2="49.3" y2="469.6" stroke="#888" stroke-width="0.8"/>
<text x="44.6" y="332.2" font-family="'Liberation Serif', serif" font-size="7.2" font-weight="normal" font-style="normal" text-anchor="end" fill="#444" stroke="#444" stroke-width="0.18">0.1</text>
<text x="44.6" y="402.4" font-family="'Liberation Serif', serif" font-size="7.2" font-weight="normal" font-style="normal" text-anchor="end" fill="#444" stroke="#444" stroke-width="0.18">0.01</text>
<text x="43.8" y="423.6" font-family="'Liberation Serif', serif" font-size="9.7" font-weight="bold" font-style="italic" text-anchor="end" fill="#111" stroke="#111" stroke-width="0.22">0.005</text>
<text x="45.2" y="472.1" font-family="'Liberation Serif', serif" font-size="7.2" font-weight="normal" font-style="normal" text-anchor="end" fill="#444" stroke="#444" stroke-width="0.18">0.001</text>
<line x1="49.5" y1="472.4" x2="141.8" y2="472.4" stroke="#666" stroke-width="1.1"/>
<line x1="73.2" y1="472.4" x2="73.2" y2="470.9" stroke="#777" stroke-width="0.8"/>
<text x="73.2" y="480.6" font-family="'Liberation Serif', serif" font-size="6.6" font-weight="normal" font-style="normal" text-anchor="middle" fill="#222" stroke="#222" stroke-width="0.18">500</text>
<line x1="96.8" y1="472.4" x2="96.8" y2="470.9" stroke="#777" stroke-width="0.8"/>
<text x="96.8" y="480.6" font-family="'Liberation Serif', serif" font-size="6.6" font-weight="normal" font-style="normal" text-anchor="middle" fill="#222" stroke="#222" stroke-width="0.18">1000</text>
<line x1="119.8" y1="472.4" x2="119.8" y2="470.9" stroke="#777" stroke-width="0.8"/>
<text x="119.8" y="480.6" font-family="'Liberation Serif', serif" font-size="6.6" font-weight="normal" font-style="normal" text-anchor="middle" fill="#222" stroke="#222" stroke-width="0.18">1500</text>
<line x1="141.6" y1="472.4" x2="141.6" y2="470.9" stroke="#777" stroke-width="0.8"/>
<text x="141.6" y="480.6" font-family="'Liberation Serif', serif" font-size="6.6" font-weight="normal" font-style="normal" text-anchor="middle" fill="#222" stroke="#222" stroke-width="0.18">2000</text>
<line x1="157" y1="471.7" x2="254.7" y2="471.7" stroke="#666" stroke-width="1.1"/>
<line x1="180.4" y1="471.7" x2="180.4" y2="470.2" stroke="#777" stroke-width="0.8"/>
<text x="180.4" y="480.6" font-family="'Liberation Serif', serif" font-size="6.6" font-weight="normal" font-style="normal" text-anchor="middle" fill="#222" stroke="#222" stroke-width="0.18">500</text>
<line x1="203.8" y1="471.7" x2="203.8" y2="470.2" stroke="#777" stroke-width="0.8"/>
<text x="203.8" y="480.6" font-family="'Liberation Serif', serif" font-size="6.6" font-weight="normal" font-style="normal" text-anchor="middle" fill="#222" stroke="#222" stroke-width="0.18">1000</text>
<line x1="227.6" y1="471.7" x2="227.6" y2="470.2" stroke="#777" stroke-width="0.8"/>
<text x="227.6" y="480.6" font-family="'Liberation Serif', serif" font-size="6.6" font-weight="normal" font-style="normal" text-anchor="middle" fill="#222" stroke="#222" stroke-width="0.18">1500</text>
<line x1="249.8" y1="471.7" x2="249.8" y2="470.2" stroke="#777" stroke-width="0.8"/>
<text x="249.8" y="480.6" font-family="'Liberation Serif', serif" font-size="6.6" font-weight="normal" font-style="normal" text-anchor="middle" fill="#222" stroke="#222" stroke-width="0.18">2000</text>
<text x="102.5" y="496.8" font-family="'Liberation Serif', serif" font-size="8.0" font-weight="bold" font-style="normal" text-anchor="middle" fill="#111" stroke="#111" stroke-width="0.22">Progressive</text>
<text x="205.7" y="496.8" font-family="'Liberation Serif', serif" font-size="8.0" font-weight="bold" font-style="normal" text-anchor="middle" fill="#111" stroke="#111" stroke-width="0.22">Stable</text>
<text x="284" y="510.6" font-family="'Liberation Serif', serif" font-size="8.0" font-weight="normal" font-style="normal" text-anchor="middle" fill="#111" stroke="#111" stroke-width="0.18">Time on study (days)</text>
<text x="142.8" y="288.8" font-family="'Liberation Sans', sans-serif" font-size="7.1" font-weight="normal" font-style="normal" text-anchor="middle" fill="#222" stroke="#222" stroke-width="0.18">p= .004</text>
<polyline points="114.5,297.8 114.5,294.3 175,294.3 175,297.8" fill="none" stroke="#3a3a3a" stroke-width="1.2"/>
<line x1="48.4" y1="361.6" x2="118.4" y2="390.0" stroke="#4e4e90" stroke-width="1.0" stroke-opacity="1"/>
<rect x="47.6" y="360.8" width="1.6" height="1.6" fill="#33336a" fill-opacity="0.8"/>
<path d="M116.8 388.4L120.0 391.6M116.8 391.6L120.0 388.4" stroke="#33336a" stroke-width="0.8"/>
<line x1="48.2" y1="382.2" x2="95.6" y2="403.5" stroke="#4e4e90" stroke-width="1.0" stroke-opacity="1"/>
<rect x="47.4" y="381.4" width="1.6" height="1.6" fill="#33336a" fill-opacity="0.8"/>
<rect x="94.7" y="402.6" width="1.8" height="1.8" fill="#33336a" fill-opacity="0.85"/>
<line x1="48.2" y1="382.3" x2="135.0" y2="469.4" stroke="#4e4e90" stroke-width="1.0" stroke-opacity="1"/>
<rect x="47.4" y="381.5" width="1.6" height="1.6" fill="#33336a" fill-opacity="0.8"/>
<rect x="134.1" y="468.5" width="1.8" height="1.8" fill="#33336a" fill-opacity="0.85"/>
<line x1="48.2" y1="383.6" x2="98.1" y2="428.6" stroke="#4e4e90" stroke-width="1.0" stroke-opacity="1"/>
<rect x="47.4" y="382.8" width="1.6" height="1.6" fill="#33336a" fill-opacity="0.8"/>
<rect x="97.2" y="427.7" width="1.8" height="1.8" fill="#33336a" fill-opacity="0.85"/>
<line x1="48.2" y1="387.7" x2="111.7" y2="436.7" stroke="#4e4e90" stroke-width="1.0" stroke-opacity="1"/>
<rect x="47.4" y="386.9" width="1.6" height="1.6" fill="#33336a" fill-opacity="0.8"/>
<path d="M110.1 435.1L113.3 438.3M110.1 438.3L113.3 435.1" stroke="#33336a" stroke-width="0.8"/>
<line x1="48.2" y1="390.4" x2="109.0" y2="449.5" stroke="#4e4e90" stroke-width="1.0" stroke-opacity="1"/>
<rect x="47.4" y="389.6" width="1.6" height="1.6" fill="#33336a" fill-opacity="0.8"/>
<rect x="108.1" y="448.6" width="1.8" height="1.8" fill="#33336a" fill-opacity="0.85"/>
<line x1="48.2" y1="393.1" x2="94.0" y2="469.4" stroke="#4e4e90" stroke-width="1.0" stroke-opacity="1"/>
<rect x="47.4" y="392.3" width="1.6" height="1.6" fill="#33336a" fill-opacity="0.8"/>
<rect x="93.1" y="468.5" width="1.8" height="1.8" fill="#33336a" fill-opacity="0.85"/>
<line x1="48.2" y1="404.0" x2="121.3" y2="421.2" stroke="#f0c068" stroke-width="1.0" stroke-opacity="0.9"/>
<rect x="47.4" y="403.2" width="1.6" height="1.6" fill="#b08550" fill-opacity="0.8"/>
<rect x="120.4" y="420.3" width="1.8" height="1.8" fill="#b08550" fill-opacity="0.85"/>
<line x1="48.2" y1="409.5" x2="118.6" y2="428.0" stroke="#f0c068" stroke-width="1.0" stroke-opacity="0.9"/>
<rect x="47.4" y="408.7" width="1.6" height="1.6" fill="#b08550" fill-opacity="0.8"/>
<rect x="117.7" y="427.1" width="1.8" height="1.8" fill="#b08550" fill-opacity="0.85"/>
<line x1="48.2" y1="408.0" x2="85.0" y2="428.0" stroke="#4e4e90" stroke-width="1.0" stroke-opacity="1"/>
<rect x="47.4" y="407.2" width="1.6" height="1.6" fill="#33336a" fill-opacity="0.8"/>
<rect x="84.1" y="427.1" width="1.8" height="1.8" fill="#33336a" fill-opacity="0.85"/>
<line x1="48.2" y1="414.9" x2="98.1" y2="436.7" stroke="#4e4e90" stroke-width="1.0" stroke-opacity="1"/>
<rect x="47.4" y="414.1" width="1.6" height="1.6" fill="#33336a" fill-opacity="0.8"/>
<rect x="97.2" y="435.8" width="1.8" height="1.8" fill="#33336a" fill-opacity="0.85"/>
<line x1="48.2" y1="418.0" x2="104.0" y2="437.0" stroke="#4e4e90" stroke-width="1.0" stroke-opacity="1"/>
<rect x="47.4" y="417.2" width="1.6" height="1.6" fill="#33336a" fill-opacity="0.8"/>
<path d="M102.4 435.4L105.6 438.6M102.4 438.6L105.6 435.4" stroke="#33336a" stroke-width="0.8"/>
<line x1="48.2" y1="421.7" x2="95.4" y2="449.5" stroke="#4e4e90" stroke-width="1.0" stroke-opacity="1"/>
<rect x="47.4" y="420.9" width="1.6" height="1.6" fill="#33336a" fill-opacity="0.8"/>
<path d="M93.8 447.9L97.0 451.1M93.8 451.1L97.0 447.9" stroke="#33336a" stroke-width="0.8"/>
<line x1="48.2" y1="427.2" x2="68.1" y2="436.7" stroke="#4e4e90" stroke-width="1.0" stroke-opacity="1"/>
<rect x="47.4" y="426.4" width="1.6" height="1.6" fill="#33336a" fill-opacity="0.8"/>
<rect x="67.2" y="435.8" width="1.8" height="1.8" fill="#33336a" fill-opacity="0.85"/>
<line x1="48.2" y1="427.2" x2="109.0" y2="436.7" stroke="#4e4e90" stroke-width="1.0" stroke-opacity="1"/>
<rect x="47.4" y="426.4" width="1.6" height="1.6" fill="#33336a" fill-opacity="0.8"/>
<rect x="108.1" y="435.8" width="1.8" height="1.8" fill="#33336a" fill-opacity="0.85"/>
<line x1="48.2" y1="436.7" x2="65.4" y2="469.4" stroke="#4e4e90" stroke-width="1.0" stroke-opacity="1"/>
<rect x="47.4" y="435.9" width="1.6" height="1.6" fill="#33336a" fill-opacity="0.8"/>
<rect x="64.5" y="468.5" width="1.8" height="1.8" fill="#33336a" fill-opacity="0.85"/>
<line x1="48.2" y1="449.0" x2="60.0" y2="469.4" stroke="#4e4e90" stroke-width="1.0" stroke-opacity="1"/>
<rect x="47.4" y="448.2" width="1.6" height="1.6" fill="#33336a" fill-opacity="0.8"/>
<rect x="59.1" y="468.5" width="1.8" height="1.8" fill="#33336a" fill-opacity="0.85"/>
<line x1="48.2" y1="449.0" x2="54.0" y2="469.4" stroke="#4e4e90" stroke-width="1.0" stroke-opacity="1"/>
<rect x="47.4" y="448.2" width="1.6" height="1.6" fill="#33336a" fill-opacity="0.8"/>
<rect x="53.1" y="468.5" width="1.8" height="1.8" fill="#33336a" fill-opacity="0.85"/>
<line x1="48.2" y1="386.0" x2="84.0" y2="430.0" stroke="#4e4e90" stroke-width="1.0" stroke-opacity="1"/>
<rect x="47.4" y="385.2" width="1.6" height="1.6" fill="#33336a" fill-opacity="0.8"/>
<rect x="83.1" y="429.1" width="1.8" height="1.8" fill="#33336a" fill-opacity="0.85"/>
<line x1="155.6" y1="361.4" x2="168.7" y2="344.5" stroke="#f0c068" stroke-width="1.0" stroke-opacity="0.9"/>
<rect x="154.8" y="360.6" width="1.6" height="1.6" fill="#b08550" fill-opacity="0.8"/>
<rect x="167.8" y="343.6" width="1.8" height="1.8" fill="#b08550" fill-opacity="0.85"/>
<line x1="155.6" y1="360.0" x2="189.8" y2="364.0" stroke="#f0c068" stroke-width="1.0" stroke-opacity="0.9"/>
<rect x="154.8" y="359.2" width="1.6" height="1.6" fill="#b08550" fill-opacity="0.8"/>
<rect x="188.9" y="363.1" width="1.8" height="1.8" fill="#b08550" fill-opacity="0.85"/>
<line x1="155.6" y1="362.5" x2="216.9" y2="367.2" stroke="#f0c068" stroke-width="1.0" stroke-opacity="0.9"/>
<rect x="154.8" y="361.7" width="1.6" height="1.6" fill="#b08550" fill-opacity="0.8"/>
<rect x="216.0" y="366.3" width="1.8" height="1.8" fill="#b08550" fill-opacity="0.85"/>
<line x1="155.6" y1="365.5" x2="169.0" y2="366.0" stroke="#f0c068" stroke-width="1.0" stroke-opacity="0.9"/>
<rect x="154.8" y="364.7" width="1.6" height="1.6" fill="#b08550" fill-opacity="0.8"/>
<rect x="168.1" y="365.1" width="1.8" height="1.8" fill="#b08550" fill-opacity="0.85"/>
<line x1="155.6" y1="377.3" x2="231.7" y2="375.6" stroke="#f0c068" stroke-width="1.0" stroke-opacity="0.9"/>
<rect x="154.8" y="376.5" width="1.6" height="1.6" fill="#b08550" fill-opacity="0.8"/>
<rect x="230.8" y="374.7" width="1.8" height="1.8" fill="#b08550" fill-opacity="0.85"/>
<line x1="155.6" y1="382.0" x2="189.8" y2="386.8" stroke="#f0c068" stroke-width="1.0" stroke-opacity="0.9"/>
<rect x="154.8" y="381.2" width="1.6" height="1.6" fill="#b08550" fill-opacity="0.8"/>
<rect x="188.9" y="385.9" width="1.8" height="1.8" fill="#b08550" fill-opacity="0.85"/>
<line x1="155.6" y1="393.8" x2="204.2" y2="396.3" stroke="#f0c068" stroke-width="1.0" stroke-opacity="0.9"/>
<rect x="154.8" y="393.0" width="1.6" height="1.6" fill="#b08550" fill-opacity="0.8"/>
<rect x="203.3" y="395.4" width="1.8" height="1.8" fill="#b08550" fill-opacity="0.85"/>
<line x1="155.6" y1="405.9" x2="192.0" y2="415.0" stroke="#f0c068" stroke-width="1.0" stroke-opacity="0.9"/>
<rect x="154.8" y="405.1" width="1.6" height="1.6" fill="#b08550" fill-opacity="0.8"/>
<rect x="191.1" y="414.1" width="1.8" height="1.8" fill="#b08550" fill-opacity="0.85"/>
<line x1="155.6" y1="373.0" x2="212.7" y2="415.0" stroke="#4e4e90" stroke-width="1.0" stroke-opacity="1"/>
<rect x="154.8" y="372.2" width="1.6" height="1.6" fill="#33336a" fill-opacity="0.8"/>
<rect x="211.8" y="414.1" width="1.8" height="1.8" fill="#33336a" fill-opacity="0.85"/>
<line x1="155.6" y1="382.0" x2="218.0" y2="402.7" stroke="#4e4e90" stroke-width="1.0" stroke-opacity="1"/>
<rect x="154.8" y="381.2" width="1.6" height="1.6" fill="#33336a" fill-opacity="0.8"/>
<rect x="217.1" y="401.8" width="1.8" height="1.8" fill="#33336a" fill-opacity="0.85"/>
<line x1="155.6" y1="420.7" x2="174.6" y2="389.0" stroke="#4e4e90" stroke-width="1.0" stroke-opacity="1"/>
<rect x="154.8" y="419.9" width="1.6" height="1.6" fill="#33336a" fill-opacity="0.8"/>
<rect x="173.7" y="388.1" width="1.8" height="1.8" fill="#33336a" fill-opacity="0.85"/>
<line x1="155.6" y1="376.3" x2="173.6" y2="396.3" stroke="#4e4e90" stroke-width="1.0" stroke-opacity="1"/>
<rect x="154.8" y="375.5" width="1.6" height="1.6" fill="#33336a" fill-opacity="0.8"/>
<rect x="172.7" y="395.4" width="1.8" height="1.8" fill="#33336a" fill-opacity="0.85"/>
<text x="279.7" y="277.1" font-family="'Liberation Sans', sans-serif" font-size="13.4" font-weight="bold" font-style="normal" text-anchor="start" fill="#111" stroke="#111" stroke-width="0.55">D</text>
<text x="281.3" y="383.5" font-family="'Liberation Serif', serif" font-size="7.9" font-weight="bold" font-style="normal" text-anchor="middle" fill="#111" transform="rotate(-90 281.3 383.5)" stroke="#111" stroke-width="0.22">miR-181b relative expression</text>
<line x1="314" y1="308.5" x2="314" y2="470.8" stroke="#666" stroke-width="1.1"/>
<line x1="313.0" y1="308.6" x2="315.2" y2="308.6" stroke="#888" stroke-width="0.8"/>
<line x1="313.0" y1="315.6" x2="315.2" y2="315.6" stroke="#888" stroke-width="0.8"/>
<line x1="313.0" y1="322.6" x2="315.2" y2="322.6" stroke="#888" stroke-width="0.8"/>
<line x1="312.5" y1="329.6" x2="316.5" y2="329.6" stroke="#888" stroke-width="0.8"/>
<line x1="313.0" y1="336.6" x2="315.2" y2="336.6" stroke="#888" stroke-width="0.8"/>
<line x1="313.0" y1="343.6" x2="315.2" y2="343.6" stroke="#888" stroke-width="0.8"/>
<line x1="313.0" y1="350.6" x2="315.2" y2="350.6" stroke="#888" stroke-width="0.8"/>
<line x1="313.0" y1="357.6" x2="315.2" y2="357.6" stroke="#888" stroke-width="0.8"/>
<line x1="313.0" y1="364.6" x2="315.2" y2="364.6" stroke="#888" stroke-width="0.8"/>
<line x1="313.0" y1="371.6" x2="315.2" y2="371.6" stroke="#888" stroke-width="0.8"/>
<line x1="313.0" y1="378.6" x2="315.2" y2="378.6" stroke="#888" stroke-width="0.8"/>
<line x1="313.0" y1="385.6" x2="315.2" y2="385.6" stroke="#888" stroke-width="0.8"/>
<line x1="313.0" y1="392.6" x2="315.2" y2="392.6" stroke="#888" stroke-width="0.8"/>
<line x1="312.5" y1="399.6" x2="316.5" y2="399.6" stroke="#888" stroke-width="0.8"/>
<line x1="313.0" y1="406.6" x2="315.2" y2="406.6" stroke="#888" stroke-width="0.8"/>
<line x1="313.0" y1="413.6" x2="315.2" y2="413.6" stroke="#888" stroke-width="0.8"/>
<line x1="313.0" y1="420.6" x2="315.2" y2="420.6" stroke="#888" stroke-width="0.8"/>
<line x1="313.0" y1="427.6" x2="315.2" y2="427.6" stroke="#888" stroke-width="0.8"/>
<line x1="313.0" y1="434.6" x2="315.2" y2="434.6" stroke="#888" stroke-width="0.8"/>
<line x1="313.0" y1="441.6" x2="315.2" y2="441.6" stroke="#888" stroke-width="0.8"/>
<line x1="313.0" y1="448.6" x2="315.2" y2="448.6" stroke="#888" stroke-width="0.8"/>
<line x1="313.0" y1="455.6" x2="315.2" y2="455.6" stroke="#888" stroke-width="0.8"/>
<line x1="313.0" y1="462.6" x2="315.2" y2="462.6" stroke="#888" stroke-width="0.8"/>
<line x1="312.5" y1="469.6" x2="316.5" y2="469.6" stroke="#888" stroke-width="0.8"/>
<text x="311.2" y="332.2" font-family="'Liberation Serif', serif" font-size="7.4" font-weight="normal" font-style="normal" text-anchor="end" fill="#333" stroke="#333" stroke-width="0.18">0.1</text>
<text x="311.2" y="402.4" font-family="'Liberation Serif', serif" font-size="7.4" font-weight="normal" font-style="normal" text-anchor="end" fill="#333" stroke="#333" stroke-width="0.18">0.01</text>
<text x="311.5" y="424.3" font-family="'Liberation Serif', serif" font-size="9.7" font-weight="bold" font-style="italic" text-anchor="end" fill="#111" stroke="#111" stroke-width="0.22">0.005</text>
<text x="311" y="472.1" font-family="'Liberation Serif', serif" font-size="7.2" font-weight="normal" font-style="normal" text-anchor="end" fill="#444" stroke="#444" stroke-width="0.18">0.001</text>
<line x1="314.5" y1="471.3" x2="408.3" y2="471.3" stroke="#666" stroke-width="1.1"/>
<line x1="331.7" y1="471.3" x2="331.7" y2="469.8" stroke="#777" stroke-width="0.8"/>
<text x="331.7" y="480.6" font-family="'Liberation Serif', serif" font-size="6.6" font-weight="normal" font-style="normal" text-anchor="middle" fill="#222" stroke="#222" stroke-width="0.18">500</text>
<line x1="349" y1="471.3" x2="349" y2="469.8" stroke="#777" stroke-width="0.8"/>
<text x="349" y="480.6" font-family="'Liberation Serif', serif" font-size="6.6" font-weight="normal" font-style="normal" text-anchor="middle" fill="#222" stroke="#222" stroke-width="0.18">1000</text>
<line x1="365" y1="471.3" x2="365" y2="469.8" stroke="#777" stroke-width="0.8"/>
<text x="365" y="480.6" font-family="'Liberation Serif', serif" font-size="6.6" font-weight="normal" font-style="normal" text-anchor="middle" fill="#222" stroke="#222" stroke-width="0.18">1500</text>
<line x1="381" y1="471.3" x2="381" y2="469.8" stroke="#777" stroke-width="0.8"/>
<text x="381" y="480.6" font-family="'Liberation Serif', serif" font-size="6.6" font-weight="normal" font-style="normal" text-anchor="middle" fill="#222" stroke="#222" stroke-width="0.18">2000</text>
<line x1="396.7" y1="471.3" x2="396.7" y2="469.8" stroke="#777" stroke-width="0.8"/>
<text x="396.7" y="480.6" font-family="'Liberation Serif', serif" font-size="6.6" font-weight="normal" font-style="normal" text-anchor="middle" fill="#222" stroke="#222" stroke-width="0.18">3000</text>
<line x1="426.3" y1="471" x2="516.8" y2="471" stroke="#666" stroke-width="1.1"/>
<line x1="439.8" y1="471" x2="439.8" y2="469.5" stroke="#777" stroke-width="0.8"/>
<text x="439.8" y="480.6" font-family="'Liberation Serif', serif" font-size="6.2" font-weight="normal" font-style="normal" text-anchor="middle" fill="#222" stroke="#222" stroke-width="0.18">500</text>
<line x1="453.2" y1="471" x2="453.2" y2="469.5" stroke="#777" stroke-width="0.8"/>
<text x="453.2" y="480.6" font-family="'Liberation Serif', serif" font-size="6.2" font-weight="normal" font-style="normal" text-anchor="middle" fill="#222" stroke="#222" stroke-width="0.18">1000</text>
<line x1="466.7" y1="471" x2="466.7" y2="469.5" stroke="#777" stroke-width="0.8"/>
<text x="466.7" y="480.6" font-family="'Liberation Serif', serif" font-size="6.2" font-weight="normal" font-style="normal" text-anchor="middle" fill="#222" stroke="#222" stroke-width="0.18">1500</text>
<line x1="481" y1="471" x2="481" y2="469.5" stroke="#777" stroke-width="0.8"/>
<text x="481" y="480.6" font-family="'Liberation Serif', serif" font-size="6.2" font-weight="normal" font-style="normal" text-anchor="middle" fill="#222" stroke="#222" stroke-width="0.18">2000</text>
<line x1="495.2" y1="471" x2="495.2" y2="469.5" stroke="#777" stroke-width="0.8"/>
<text x="495.2" y="480.6" font-family="'Liberation Serif', serif" font-size="6.2" font-weight="normal" font-style="normal" text-anchor="middle" fill="#222" stroke="#222" stroke-width="0.18">2500</text>
<line x1="510" y1="471" x2="510" y2="469.5" stroke="#777" stroke-width="0.8"/>
<text x="510" y="480.6" font-family="'Liberation Serif', serif" font-size="6.2" font-weight="normal" font-style="normal" text-anchor="middle" fill="#222" stroke="#222" stroke-width="0.18">3000</text>
<text x="364" y="496.8" font-family="'Liberation Serif', serif" font-size="8.0" font-weight="bold" font-style="normal" text-anchor="middle" fill="#111" stroke="#111" stroke-width="0.22">Progressive</text>
<text x="471" y="497.2" font-family="'Liberation Serif', serif" font-size="8.0" font-weight="bold" font-style="normal" text-anchor="middle" fill="#111" stroke="#111" stroke-width="0.22">Stable</text>
<text x="416" y="288.8" font-family="'Liberation Serif', serif" font-size="7.8" font-weight="normal" font-style="normal" text-anchor="middle" fill="#222" stroke="#222" stroke-width="0.18">p&lt; .001</text>
<polyline points="386.3,297.8 386.3,294.3 447,294.3 447,297.8" fill="none" stroke="#3a3a3a" stroke-width="1.2"/>
<line x1="315.6" y1="333.1" x2="366.5" y2="393.7" stroke="#5c5cac" stroke-width="0.95" stroke-opacity="0.9"/>
<rect x="314.8" y="332.3" width="1.6" height="1.6" fill="#33336a" fill-opacity="0.8"/>
<path d="M364.9 392.1L368.1 395.3M364.9 395.3L368.1 392.1" stroke="#33336a" stroke-width="0.8"/>
<line x1="315.6" y1="338.7" x2="359.7" y2="386.3" stroke="#5c5cac" stroke-width="0.95" stroke-opacity="0.9"/>
<rect x="314.8" y="337.9" width="1.6" height="1.6" fill="#33336a" fill-opacity="0.8"/>
<rect x="358.8" y="385.4" width="1.8" height="1.8" fill="#33336a" fill-opacity="0.85"/>
<line x1="315.6" y1="340.2" x2="354.1" y2="354.2" stroke="#f2c36a" stroke-width="0.95" stroke-opacity="0.6"/>
<rect x="314.8" y="339.4" width="1.6" height="1.6" fill="#b08550" fill-opacity="0.8"/>
<rect x="353.2" y="353.3" width="1.8" height="1.8" fill="#b08550" fill-opacity="0.85"/>
<line x1="315.6" y1="382.2" x2="362.8" y2="336.2" stroke="#f2c36a" stroke-width="0.95" stroke-opacity="0.6"/>
<rect x="314.8" y="381.4" width="1.6" height="1.6" fill="#b08550" fill-opacity="0.8"/>
<rect x="361.9" y="335.3" width="1.8" height="1.8" fill="#b08550" fill-opacity="0.85"/>
<line x1="315.6" y1="351.1" x2="380.5" y2="428.2" stroke="#5c5cac" stroke-width="0.95" stroke-opacity="0.9"/>
<rect x="314.8" y="350.3" width="1.6" height="1.6" fill="#33336a" fill-opacity="0.8"/>
<path d="M378.9 426.6L382.1 429.8M378.9 429.8L382.1 426.6" stroke="#33336a" stroke-width="0.8"/>
<line x1="315.6" y1="354.2" x2="365.9" y2="402.4" stroke="#5c5cac" stroke-width="0.95" stroke-opacity="0.9"/>
<rect x="314.8" y="353.4" width="1.6" height="1.6" fill="#33336a" fill-opacity="0.8"/>
<rect x="365.0" y="401.5" width="1.8" height="1.8" fill="#33336a" fill-opacity="0.85"/>
<line x1="315.6" y1="357.3" x2="396.1" y2="413.9" stroke="#5c5cac" stroke-width="0.95" stroke-opacity="0.9"/>
<rect x="314.8" y="356.5" width="1.6" height="1.6" fill="#33336a" fill-opacity="0.8"/>
<rect x="395.2" y="413.0" width="1.8" height="1.8" fill="#33336a" fill-opacity="0.85"/>
<line x1="315.6" y1="362.0" x2="402.3" y2="427.3" stroke="#5c5cac" stroke-width="0.95" stroke-opacity="0.9"/>
<rect x="314.8" y="361.2" width="1.6" height="1.6" fill="#33336a" fill-opacity="0.8"/>
<rect x="401.4" y="426.4" width="1.8" height="1.8" fill="#33336a" fill-opacity="0.85"/>
<line x1="315.6" y1="374.4" x2="341.0" y2="407.0" stroke="#5c5cac" stroke-width="0.95" stroke-opacity="0.9"/>
<rect x="314.8" y="373.6" width="1.6" height="1.6" fill="#33336a" fill-opacity="0.8"/>
<rect x="340.1" y="406.1" width="1.8" height="1.8" fill="#33336a" fill-opacity="0.85"/>
<line x1="315.6" y1="380.7" x2="375.2" y2="448.1" stroke="#5c5cac" stroke-width="0.95" stroke-opacity="0.9"/>
<rect x="314.8" y="379.9" width="1.6" height="1.6" fill="#33336a" fill-opacity="0.8"/>
<path d="M373.6 446.5L376.8 449.7M373.6 449.7L376.8 446.5" stroke="#33336a" stroke-width="0.8"/>
<line x1="315.6" y1="385.3" x2="375.9" y2="469.3" stroke="#5c5cac" stroke-width="0.95" stroke-opacity="0.9"/>
<rect x="314.8" y="384.5" width="1.6" height="1.6" fill="#33336a" fill-opacity="0.8"/>
<path d="M374.3 467.7L377.5 470.9M374.3 470.9L377.5 467.7" stroke="#33336a" stroke-width="0.8"/>
<line x1="315.6" y1="388.4" x2="360.3" y2="449.1" stroke="#5c5cac" stroke-width="0.95" stroke-opacity="0.9"/>
<rect x="314.8" y="387.6" width="1.6" height="1.6" fill="#33336a" fill-opacity="0.8"/>
<path d="M358.7 447.5L361.9 450.7M358.7 450.7L361.9 447.5" stroke="#33336a" stroke-width="0.8"/>
<line x1="315.6" y1="393.1" x2="357.2" y2="435.4" stroke="#5c5cac" stroke-width="0.95" stroke-opacity="0.9"/>
<rect x="314.8" y="392.3" width="1.6" height="1.6" fill="#33336a" fill-opacity="0.8"/>
<rect x="356.3" y="434.5" width="1.8" height="1.8" fill="#33336a" fill-opacity="0.85"/>
<line x1="315.6" y1="402.4" x2="347.7" y2="436.0" stroke="#5c5cac" stroke-width="0.95" stroke-opacity="0.9"/>
<rect x="314.8" y="401.6" width="1.6" height="1.6" fill="#33336a" fill-opacity="0.8"/>
<path d="M346.1 434.4L349.3 437.6M346.1 437.6L349.3 434.4" stroke="#33336a" stroke-width="0.8"/>
<line x1="315.6" y1="406.4" x2="379.8" y2="414.3" stroke="#f2c36a" stroke-width="0.95" stroke-opacity="0.6"/>
<rect x="314.8" y="405.6" width="1.6" height="1.6" fill="#b08550" fill-opacity="0.8"/>
<rect x="378.9" y="413.4" width="1.8" height="1.8" fill="#b08550" fill-opacity="0.85"/>
<line x1="315.6" y1="404.0" x2="354.1" y2="413.3" stroke="#f2c36a" stroke-width="0.95" stroke-opacity="0.6"/>
<rect x="314.8" y="403.2" width="1.6" height="1.6" fill="#b08550" fill-opacity="0.8"/>
<rect x="353.2" y="412.4" width="1.8" height="1.8" fill="#b08550" fill-opacity="0.85"/>
<line x1="315.6" y1="400.0" x2="340.7" y2="406.4" stroke="#5c5cac" stroke-width="0.95" stroke-opacity="0.9"/>
<rect x="314.8" y="399.2" width="1.6" height="1.6" fill="#33336a" fill-opacity="0.8"/>
<rect x="339.8" y="405.5" width="1.8" height="1.8" fill="#33336a" fill-opacity="0.85"/>
<line x1="315.6" y1="420.2" x2="339.6" y2="420.2" stroke="#5c5cac" stroke-width="0.95" stroke-opacity="0.9"/>
<rect x="314.8" y="419.4" width="1.6" height="1.6" fill="#33336a" fill-opacity="0.8"/>
<path d="M338.0 418.6L341.2 421.8M338.0 421.8L341.2 418.6" stroke="#33336a" stroke-width="0.8"/>
<line x1="339.6" y1="420.2" x2="348.0" y2="420.2" stroke="#5c5cac" stroke-width="0.95" stroke-opacity="0.9"/>
<rect x="338.8" y="419.4" width="1.6" height="1.6" fill="#33336a" fill-opacity="0.8"/>
<rect x="347.1" y="419.3" width="1.8" height="1.8" fill="#33336a" fill-opacity="0.85"/>
<line x1="315.6" y1="427.3" x2="337.5" y2="436.7" stroke="#5c5cac" stroke-width="0.95" stroke-opacity="0.9"/>
<rect x="314.8" y="426.5" width="1.6" height="1.6" fill="#33336a" fill-opacity="0.8"/>
<rect x="336.6" y="435.8" width="1.8" height="1.8" fill="#33336a" fill-opacity="0.85"/>
<line x1="315.6" y1="435.1" x2="319.9" y2="447.5" stroke="#5c5cac" stroke-width="0.95" stroke-opacity="0.9"/>
<rect x="314.8" y="434.3" width="1.6" height="1.6" fill="#33336a" fill-opacity="0.8"/>
<path d="M318.3 445.9L321.5 449.1M318.3 449.1L321.5 445.9" stroke="#33336a" stroke-width="0.8"/>
<line x1="315.6" y1="427.3" x2="331.0" y2="427.0" stroke="#5c5cac" stroke-width="0.95" stroke-opacity="0.9"/>
<rect x="314.8" y="426.5" width="1.6" height="1.6" fill="#33336a" fill-opacity="0.8"/>
<path d="M329.4 425.4L332.6 428.6M329.4 428.6L332.6 425.4" stroke="#33336a" stroke-width="0.8"/>
<line x1="315.6" y1="412.0" x2="345.0" y2="431.0" stroke="#5c5cac" stroke-width="0.95" stroke-opacity="0.9"/>
<rect x="314.8" y="411.2" width="1.6" height="1.6" fill="#33336a" fill-opacity="0.8"/>
<rect x="344.1" y="430.1" width="1.8" height="1.8" fill="#33336a" fill-opacity="0.85"/>
<line x1="315.6" y1="367.0" x2="350.0" y2="405.0" stroke="#5c5cac" stroke-width="0.95" stroke-opacity="0.9"/>
<rect x="314.8" y="366.2" width="1.6" height="1.6" fill="#33336a" fill-opacity="0.8"/>
<rect x="349.1" y="404.1" width="1.8" height="1.8" fill="#33336a" fill-opacity="0.85"/>
<rect x="315.0" y="373.5" width="1.8" height="1.8" fill="#c08a40" fill-opacity="0.8"/>
<rect x="315.0" y="379.40000000000003" width="1.8" height="1.8" fill="#c08a40" fill-opacity="0.8"/>
<rect x="315.0" y="385.1" width="1.8" height="1.8" fill="#c08a40" fill-opacity="0.8"/>
<rect x="315.0" y="392.1" width="1.8" height="1.8" fill="#c08a40" fill-opacity="0.8"/>
<rect x="315.0" y="398.1" width="1.8" height="1.8" fill="#c08a40" fill-opacity="0.8"/>
<rect x="315.0" y="406.3" width="1.8" height="1.8" fill="#c08a40" fill-opacity="0.8"/>
<line x1="315.6" y1="374.4" x2="330" y2="380" stroke="#f2c36a" stroke-width="0.9" stroke-opacity="0.7"/>
<line x1="315.6" y1="393" x2="333" y2="400" stroke="#f2c36a" stroke-width="0.9" stroke-opacity="0.7"/>
<line x1="315.6" y1="386" x2="328" y2="398" stroke="#f2c36a" stroke-width="0.9" stroke-opacity="0.7"/>
<line x1="426.9" y1="304.8" x2="449.2" y2="318.3" stroke="#f2c36a" stroke-width="1.0" stroke-opacity="0.85"/>
<rect x="426.1" y="304.0" width="1.6" height="1.6" fill="#b08550" fill-opacity="0.8"/>
<rect x="448.3" y="317.4" width="1.8" height="1.8" fill="#b08550" fill-opacity="0.85"/>
<line x1="426.9" y1="324.0" x2="455.4" y2="324.0" stroke="#f2c36a" stroke-width="1.0" stroke-opacity="0.85"/>
<rect x="426.1" y="323.2" width="1.6" height="1.6" fill="#b08550" fill-opacity="0.8"/>
<rect x="454.5" y="323.1" width="1.8" height="1.8" fill="#b08550" fill-opacity="0.85"/>
<line x1="426.9" y1="337.5" x2="450.6" y2="328.8" stroke="#f2c36a" stroke-width="1.0" stroke-opacity="0.85"/>
<rect x="426.1" y="336.7" width="1.6" height="1.6" fill="#b08550" fill-opacity="0.8"/>
<rect x="449.7" y="327.9" width="1.8" height="1.8" fill="#b08550" fill-opacity="0.85"/>
<line x1="432.3" y1="345.2" x2="474.6" y2="309.6" stroke="#f2c36a" stroke-width="1.0" stroke-opacity="0.85"/>
<rect x="431.5" y="344.4" width="1.6" height="1.6" fill="#b08550" fill-opacity="0.8"/>
<rect x="473.7" y="308.7" width="1.8" height="1.8" fill="#b08550" fill-opacity="0.85"/>
<line x1="426.9" y1="341.3" x2="445.8" y2="322.1" stroke="#f2c36a" stroke-width="1.0" stroke-opacity="0.85"/>
<rect x="426.1" y="340.5" width="1.6" height="1.6" fill="#b08550" fill-opacity="0.8"/>
<rect x="444.9" y="321.2" width="1.8" height="1.8" fill="#b08550" fill-opacity="0.85"/>
<line x1="434.0" y1="345.6" x2="469.8" y2="340.1" stroke="#f2c36a" stroke-width="1.0" stroke-opacity="0.85"/>
<rect x="433.2" y="344.8" width="1.6" height="1.6" fill="#b08550" fill-opacity="0.8"/>
<rect x="468.9" y="339.2" width="1.8" height="1.8" fill="#b08550" fill-opacity="0.85"/>
<line x1="426.9" y1="348.7" x2="465.1" y2="351.0" stroke="#f2c36a" stroke-width="1.0" stroke-opacity="0.85"/>
<rect x="426.1" y="347.9" width="1.6" height="1.6" fill="#b08550" fill-opacity="0.8"/>
<rect x="464.2" y="350.1" width="1.8" height="1.8" fill="#b08550" fill-opacity="0.85"/>
<line x1="426.9" y1="350.2" x2="469.8" y2="355.7" stroke="#f2c36a" stroke-width="1.0" stroke-opacity="0.85"/>
<rect x="426.1" y="349.4" width="1.6" height="1.6" fill="#b08550" fill-opacity="0.8"/>
<rect x="468.9" y="354.8" width="1.8" height="1.8" fill="#b08550" fill-opacity="0.85"/>
<line x1="426.9" y1="354.9" x2="458.9" y2="358.8" stroke="#f2c36a" stroke-width="1.0" stroke-opacity="0.85"/>
<rect x="426.1" y="354.1" width="1.6" height="1.6" fill="#b08550" fill-opacity="0.8"/>
<rect x="458.0" y="357.9" width="1.8" height="1.8" fill="#b08550" fill-opacity="0.85"/>
<line x1="426.9" y1="355.7" x2="467.5" y2="360.8" stroke="#f2c36a" stroke-width="1.0" stroke-opacity="0.85"/>
<rect x="426.1" y="354.9" width="1.6" height="1.6" fill="#b08550" fill-opacity="0.8"/>
<rect x="466.6" y="359.9" width="1.8" height="1.8" fill="#b08550" fill-opacity="0.85"/>
<line x1="426.9" y1="368.9" x2="490.8" y2="374.8" stroke="#f2c36a" stroke-width="1.0" stroke-opacity="0.85"/>
<rect x="426.1" y="368.1" width="1.6" height="1.6" fill="#b08550" fill-opacity="0.8"/>
<rect x="489.9" y="373.9" width="1.8" height="1.8" fill="#b08550" fill-opacity="0.85"/>
<line x1="426.9" y1="371.2" x2="480.7" y2="381.7" stroke="#f2c36a" stroke-width="1.0" stroke-opacity="0.85"/>
<rect x="426.1" y="370.4" width="1.6" height="1.6" fill="#b08550" fill-opacity="0.8"/>
<rect x="479.8" y="380.8" width="1.8" height="1.8" fill="#b08550" fill-opacity="0.85"/>
<line x1="426.9" y1="374.4" x2="455.5" y2="374.4" stroke="#f2c36a" stroke-width="1.0" stroke-opacity="0.85"/>
<rect x="426.1" y="373.6" width="1.6" height="1.6" fill="#b08550" fill-opacity="0.8"/>
<rect x="454.6" y="373.5" width="1.8" height="1.8" fill="#b08550" fill-opacity="0.85"/>
<line x1="426.9" y1="376.7" x2="463.6" y2="396.1" stroke="#f2c36a" stroke-width="1.0" stroke-opacity="0.85"/>
<rect x="426.1" y="375.9" width="1.6" height="1.6" fill="#b08550" fill-opacity="0.8"/>
<rect x="462.7" y="395.2" width="1.8" height="1.8" fill="#b08550" fill-opacity="0.85"/>
<line x1="426.9" y1="381.4" x2="463.6" y2="385.7" stroke="#f2c36a" stroke-width="1.0" stroke-opacity="0.85"/>
<rect x="426.1" y="380.6" width="1.6" height="1.6" fill="#b08550" fill-opacity="0.8"/>
<rect x="462.7" y="384.8" width="1.8" height="1.8" fill="#b08550" fill-opacity="0.85"/>
<line x1="426.9" y1="382.9" x2="445.4" y2="393.8" stroke="#f2c36a" stroke-width="1.0" stroke-opacity="0.85"/>
<rect x="426.1" y="382.1" width="1.6" height="1.6" fill="#b08550" fill-opacity="0.8"/>
<rect x="444.5" y="392.9" width="1.8" height="1.8" fill="#b08550" fill-opacity="0.85"/>
<line x1="426.9" y1="386.0" x2="442.6" y2="390.7" stroke="#f2c36a" stroke-width="1.0" stroke-opacity="0.85"/>
<rect x="426.1" y="385.2" width="1.6" height="1.6" fill="#b08550" fill-opacity="0.8"/>
<rect x="441.7" y="389.8" width="1.8" height="1.8" fill="#b08550" fill-opacity="0.85"/>
<line x1="426.9" y1="389.1" x2="438.7" y2="401.6" stroke="#f2c36a" stroke-width="1.0" stroke-opacity="0.85"/>
<rect x="426.1" y="388.3" width="1.6" height="1.6" fill="#b08550" fill-opacity="0.8"/>
<rect x="437.8" y="400.7" width="1.8" height="1.8" fill="#b08550" fill-opacity="0.85"/>
<line x1="426.9" y1="392.0" x2="450.0" y2="398.0" stroke="#f2c36a" stroke-width="1.0" stroke-opacity="0.85"/>
<rect x="426.1" y="391.2" width="1.6" height="1.6" fill="#b08550" fill-opacity="0.8"/>
<rect x="449.1" y="397.1" width="1.8" height="1.8" fill="#b08550" fill-opacity="0.85"/>
<line x1="426.9" y1="395.0" x2="440.0" y2="404.0" stroke="#f2c36a" stroke-width="1.0" stroke-opacity="0.85"/>
<rect x="426.1" y="394.2" width="1.6" height="1.6" fill="#b08550" fill-opacity="0.8"/>
<rect x="439.1" y="403.1" width="1.8" height="1.8" fill="#b08550" fill-opacity="0.85"/>
<line x1="426.9" y1="360.0" x2="448.0" y2="364.0" stroke="#f2c36a" stroke-width="1.0" stroke-opacity="0.85"/>
<rect x="426.1" y="359.2" width="1.6" height="1.6" fill="#b08550" fill-opacity="0.8"/>
<rect x="447.1" y="363.1" width="1.8" height="1.8" fill="#b08550" fill-opacity="0.85"/>
<line x1="426.9" y1="364.0" x2="455.0" y2="376.0" stroke="#f2c36a" stroke-width="1.0" stroke-opacity="0.85"/>
<rect x="426.1" y="363.2" width="1.6" height="1.6" fill="#b08550" fill-opacity="0.8"/>
<rect x="454.1" y="375.1" width="1.8" height="1.8" fill="#b08550" fill-opacity="0.85"/>
<rect x="437.59999999999997" y="349.09999999999997" width="1.6" height="1.6" fill="#b08550" fill-opacity="0.75"/>
<rect x="437.59999999999997" y="352.5" width="1.6" height="1.6" fill="#b08550" fill-opacity="0.75"/>
<rect x="434.8" y="367.8" width="1.6" height="1.6" fill="#b08550" fill-opacity="0.75"/>
<rect x="444.09999999999997" y="373.59999999999997" width="1.6" height="1.6" fill="#b08550" fill-opacity="0.75"/>
<rect x="448.0" y="373.59999999999997" width="1.6" height="1.6" fill="#b08550" fill-opacity="0.75"/>
<rect x="448.0" y="380.59999999999997" width="1.6" height="1.6" fill="#b08550" fill-opacity="0.75"/>
<rect x="436.3" y="386.8" width="1.6" height="1.6" fill="#b08550" fill-opacity="0.75"/>
<rect x="439.4" y="388.3" width="1.6" height="1.6" fill="#b08550" fill-opacity="0.75"/>
<rect x="442.5" y="390.7" width="1.6" height="1.6" fill="#b08550" fill-opacity="0.75"/>
<rect x="430.9" y="403.9" width="1.6" height="1.6" fill="#b08550" fill-opacity="0.75"/>
<rect x="444.2" y="337.2" width="1.6" height="1.6" fill="#b08550" fill-opacity="0.75"/>
<rect x="440.2" y="355.2" width="1.6" height="1.6" fill="#b08550" fill-opacity="0.75"/>
<rect x="451.2" y="361.2" width="1.6" height="1.6" fill="#b08550" fill-opacity="0.75"/>
<rect x="425.6" y="351.5" width="2.6" height="25" fill="#f0b850" fill-opacity="0.9"/>
<rect x="426.0" y="376" width="1.8" height="29" fill="#f0c070" fill-opacity="0.7"/>
<line x1="426.9" y1="344.6" x2="491.9" y2="401.3" stroke="#4e4e90" stroke-width="1.0" stroke-opacity="1.0"/>
<rect x="426.1" y="343.8" width="1.6" height="1.6" fill="#33336a" fill-opacity="0.8"/>
<rect x="491.0" y="400.4" width="1.8" height="1.8" fill="#33336a" fill-opacity="0.85"/>
<line x1="426.9" y1="352.0" x2="454.4" y2="373.0" stroke="#4e4e90" stroke-width="1.0" stroke-opacity="1.0"/>
<rect x="426.1" y="351.2" width="1.6" height="1.6" fill="#33336a" fill-opacity="0.8"/>
<rect x="453.5" y="372.1" width="1.8" height="1.8" fill="#33336a" fill-opacity="0.85"/>
<line x1="426.9" y1="363.8" x2="460.2" y2="386.0" stroke="#4e4e90" stroke-width="1.0" stroke-opacity="1.0"/>
<rect x="426.1" y="363.0" width="1.6" height="1.6" fill="#33336a" fill-opacity="0.8"/>
<rect x="459.3" y="385.1" width="1.8" height="1.8" fill="#33336a" fill-opacity="0.85"/>
<line x1="426.9" y1="382.0" x2="457.0" y2="416.7" stroke="#4e4e90" stroke-width="1.0" stroke-opacity="1.0"/>
<rect x="426.1" y="381.2" width="1.6" height="1.6" fill="#33336a" fill-opacity="0.8"/>
<rect x="456.1" y="415.8" width="1.8" height="1.8" fill="#33336a" fill-opacity="0.85"/>
<line x1="426.9" y1="388.8" x2="489.6" y2="448.8" stroke="#4e4e90" stroke-width="1.0" stroke-opacity="1.0"/>
<rect x="426.1" y="388.0" width="1.6" height="1.6" fill="#33336a" fill-opacity="0.8"/>
<rect x="488.7" y="447.9" width="1.8" height="1.8" fill="#33336a" fill-opacity="0.85"/>
<line x1="426.9" y1="428.3" x2="442.3" y2="428.3" stroke="#4e4e90" stroke-width="1.0" stroke-opacity="1.0"/>
<rect x="426.1" y="427.5" width="1.6" height="1.6" fill="#33336a" fill-opacity="0.8"/>
<rect x="441.4" y="427.4" width="1.8" height="1.8" fill="#33336a" fill-opacity="0.85"/></svg>
</body></html>
